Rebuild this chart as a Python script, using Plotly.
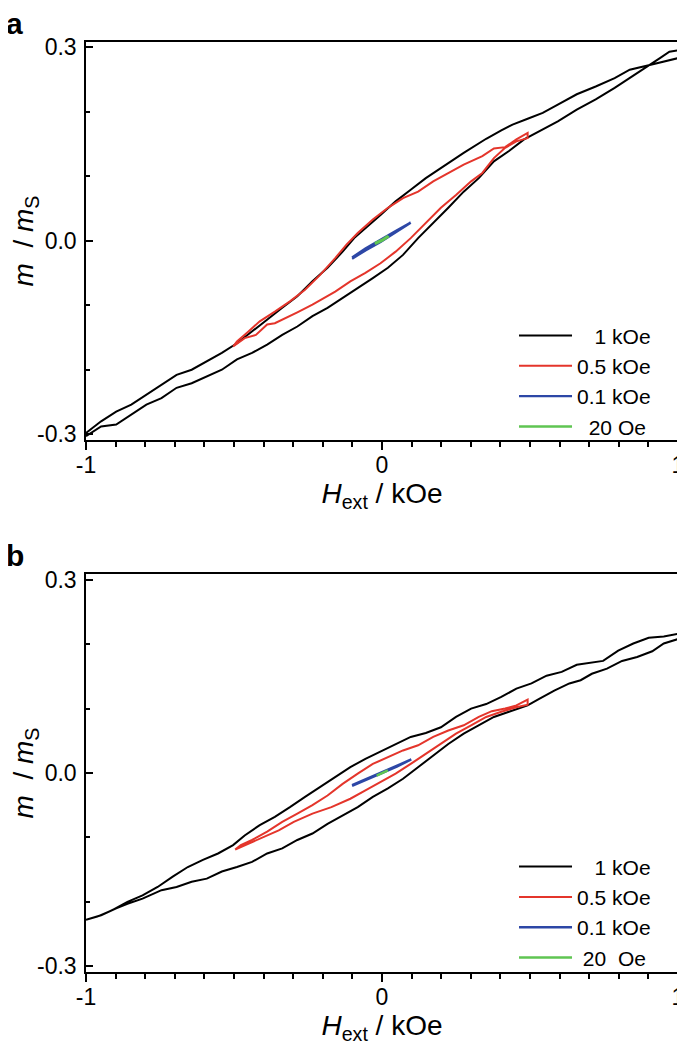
import plotly.graph_objects as go

# ---------------- data: panel a ----------------
# 1 kOe loop: ascending branch (-1 -> +1) then descending branch (+1 -> -1)
a1_up_h = [-1.0, -0.949, -0.898, -0.847, -0.796, -0.745, -0.694, -0.643, -0.592, -0.541, -0.490,
           -0.439, -0.388, -0.337, -0.286, -0.235, -0.184, -0.133, -0.082, -0.031, 0.020, 0.071,
           0.122, 0.173, 0.224, 0.276, 0.327, 0.378, 0.429, 0.480, 0.531, 0.594, 0.658, 0.722,
           0.786, 0.837, 0.901, 0.939, 0.971, 1.0]
a1_up_m = [-0.303, -0.288, -0.285, -0.270, -0.254, -0.244, -0.228, -0.221, -0.210, -0.200, -0.184,
           -0.174, -0.161, -0.146, -0.133, -0.117, -0.104, -0.089, -0.073, -0.058, -0.042, -0.022,
           0.004, 0.027, 0.051, 0.076, 0.097, 0.123, 0.139, 0.157, 0.170, 0.185, 0.203, 0.219,
           0.237, 0.252, 0.272, 0.283, 0.293, 0.295]
a1_dn_h = [1.0, 0.950, 0.901, 0.837, 0.786, 0.722, 0.658, 0.594, 0.543, 0.492, 0.441, 0.403,
           0.352, 0.276, 0.199, 0.148, 0.097, 0.046, -0.005, -0.056, -0.094, -0.133, -0.184,
           -0.235, -0.286, -0.337, -0.388, -0.439, -0.490, -0.541, -0.592, -0.643, -0.694,
           -0.745, -0.796, -0.847, -0.898, -0.949, -1.0]
a1_dn_m = [0.283, 0.278, 0.272, 0.265, 0.252, 0.239, 0.227, 0.211, 0.198, 0.189, 0.180, 0.171,
           0.158, 0.136, 0.113, 0.097, 0.079, 0.061, 0.040, 0.020, 0.004, -0.017, -0.042,
           -0.063, -0.086, -0.104, -0.122, -0.141, -0.159, -0.174, -0.187, -0.200, -0.208,
           -0.223, -0.239, -0.254, -0.265, -0.280, -0.298]

# 0.5 kOe loop
a05_up_h = [-0.503, -0.464, -0.426, -0.388, -0.362, -0.324, -0.286, -0.235, -0.196, -0.158,
            -0.107, -0.056, -0.005, 0.046, 0.097, 0.148, 0.199, 0.250, 0.301, 0.339, 0.378,
            0.416, 0.454, 0.492]
a05_up_m = [-0.164, -0.151, -0.146, -0.130, -0.128, -0.120, -0.111, -0.099, -0.089, -0.079,
            -0.063, -0.050, -0.035, -0.017, 0.004, 0.027, 0.051, 0.071, 0.092, 0.105, 0.128,
            0.144, 0.154, 0.159]
a05_dn_h = [0.492, 0.454, 0.416, 0.378, 0.339, 0.276, 0.224, 0.173, 0.122, 0.071, 0.020,
            -0.031, -0.082, -0.120, -0.158, -0.209, -0.260, -0.311, -0.362, -0.413, -0.452,
            -0.490, -0.503]
a05_dn_m = [0.167, 0.157, 0.145, 0.143, 0.131, 0.118, 0.105, 0.092, 0.076, 0.066, 0.051,
            0.033, 0.012, -0.006, -0.027, -0.053, -0.076, -0.094, -0.110, -0.125, -0.141,
            -0.156, -0.164]

# 0.1 kOe loop
a01_h = [-0.101, -0.056, -0.005, 0.046, 0.097, 0.097, 0.046, -0.005, -0.056, -0.101]
a01_m = [-0.028, -0.015, -0.002, 0.013, 0.027, 0.028, 0.015, 0.001, -0.012, -0.026]

# 20 Oe loop
a20_h = [-0.024, 0.0, 0.020, 0.020, 0.0, -0.024]
a20_m = [-0.005, 0.000, 0.006, 0.007, 0.001, -0.004]

# ---------------- data: panel b ----------------
b1_up_h = [-1.0, -0.949, -0.898, -0.860, -0.809, -0.745, -0.694, -0.643, -0.592, -0.541, -0.490,
           -0.439, -0.388, -0.337, -0.286, -0.235, -0.184, -0.133, -0.082, -0.031, 0.020, 0.071,
           0.122, 0.173, 0.224, 0.276, 0.327, 0.378, 0.429, 0.492, 0.531, 0.582, 0.633, 0.671,
           0.709, 0.760, 0.811, 0.862, 0.913, 0.952, 1.0]
b1_up_m = [-0.228, -0.221, -0.210, -0.203, -0.195, -0.182, -0.177, -0.169, -0.164, -0.153, -0.146,
           -0.138, -0.125, -0.117, -0.104, -0.094, -0.079, -0.066, -0.053, -0.037, -0.024, -0.009,
           0.009, 0.027, 0.045, 0.061, 0.074, 0.087, 0.095, 0.105, 0.115, 0.128, 0.139, 0.144,
           0.154, 0.162, 0.174, 0.180, 0.189, 0.201, 0.208]
b1_dn_h = [1.0, 0.952, 0.901, 0.849, 0.798, 0.747, 0.696, 0.658, 0.607, 0.556, 0.505, 0.454,
           0.403, 0.352, 0.301, 0.250, 0.199, 0.148, 0.097, 0.046, -0.005, -0.056, -0.107,
           -0.158, -0.209, -0.260, -0.311, -0.362, -0.413, -0.464, -0.503, -0.554, -0.605,
           -0.656, -0.707, -0.758, -0.809, -0.860, -0.911, -0.962, -1.0]
b1_dn_m = [0.216, 0.212, 0.210, 0.201, 0.190, 0.174, 0.170, 0.168, 0.157, 0.151, 0.139, 0.131,
           0.118, 0.107, 0.100, 0.087, 0.071, 0.062, 0.056, 0.045, 0.033, 0.022, 0.009,
           -0.006, -0.022, -0.037, -0.053, -0.068, -0.081, -0.097, -0.112, -0.125, -0.135,
           -0.146, -0.161, -0.177, -0.190, -0.200, -0.213, -0.223, -0.228]

b05_up_h = [-0.496, -0.452, -0.401, -0.349, -0.298, -0.235, -0.171, -0.107, -0.056, -0.005,
            0.046, 0.097, 0.148, 0.199, 0.250, 0.301, 0.352, 0.403, 0.454, 0.492]
b05_up_m = [-0.119, -0.110, -0.099, -0.089, -0.076, -0.063, -0.053, -0.040, -0.027, -0.014,
            -0.001, 0.014, 0.030, 0.045, 0.061, 0.074, 0.087, 0.095, 0.102, 0.106]
b05_dn_h = [0.492, 0.454, 0.416, 0.371, 0.327, 0.276, 0.224, 0.173, 0.122, 0.071, 0.020,
            -0.031, -0.082, -0.133, -0.184, -0.235, -0.286, -0.337, -0.388, -0.439, -0.477,
            -0.496]
b05_dn_m = [0.114, 0.105, 0.100, 0.096, 0.087, 0.074, 0.066, 0.056, 0.043, 0.035, 0.025,
            0.014, -0.001, -0.017, -0.035, -0.050, -0.063, -0.076, -0.091, -0.104, -0.112,
            -0.119]

b01_h = [-0.101, -0.050, 0.0, 0.050, 0.099, 0.099, 0.050, 0.0, -0.050, -0.101]
b01_m = [-0.020, -0.010, 0.000, 0.010, 0.021, 0.021, 0.011, 0.001, -0.009, -0.019]

b20_h = [-0.018, 0.0, 0.020, 0.020, 0.0, -0.018]
b20_m = [-0.004, 0.000, 0.004, 0.004, 0.000, -0.004]

names_a = ["\u2007\u20081 kOe", "0.5 kOe", "0.1 kOe", "\u200720 Oe"]
names_b = ["\u2007\u20081 kOe", "0.5 kOe", "0.1 kOe", "\u200820\u00a0 Oe"]
colors = ["#000000", "#e4352b", "#2d47a6", "#5fc552"]

x_ticks = [-1, 0, 1]
x_ticktext = ["-1", "0", "1"]
y_ticks = [-0.3, 0.0, 0.3]
y_ticktext = ["-0.3", "0.0", "0.3"]

FONT = "Liberation Sans, Arial, Helvetica, sans-serif"

fig = go.Figure()

series_a = [(a1_up_h + a1_dn_h, a1_up_m + a1_dn_m),
            (a05_up_h + a05_dn_h, a05_up_m + a05_dn_m),
            (a01_h, a01_m),
            (a20_h, a20_m)]
series_b = [(b1_up_h + b1_dn_h, b1_up_m + b1_dn_m),
            (b05_up_h + b05_dn_h, b05_up_m + b05_dn_m),
            (b01_h, b01_m),
            (b20_h, b20_m)]
widths = [2, 2, 2.4, 2.6]

for i, (hx, my) in enumerate(series_a):
    fig.add_trace(go.Scatter(x=hx, y=my, mode="lines", name=names_a[i],
                             line=dict(color=colors[i], width=widths[i]),
                             xaxis="x", yaxis="y", legend="legend"))
for i, (hx, my) in enumerate(series_b):
    fig.add_trace(go.Scatter(x=hx, y=my, mode="lines", name=names_b[i],
                             line=dict(color=colors[i], width=widths[i]),
                             xaxis="x2", yaxis="y2", legend="legend2"))

xcommon = dict(range=[-1, 1], tickmode="array", tickvals=x_ticks, ticktext=x_ticktext,
               ticks="outside", ticklen=8, tickwidth=1.5, tickcolor="black",
               minor=dict(dtick=0.1, tick0=0, ticks="outside", ticklen=5, tickwidth=1.5,
                          tickcolor="black", showgrid=False),
               showline=True, linecolor="black", linewidth=1.5, mirror=True,
               showgrid=False, zeroline=False, automargin=False, ticklabelstandoff=-4,
               tickfont=dict(family=FONT, size=23, color="black"),
               title=dict(text="<i>H</i><sub>ext</sub> / kOe",
                          font=dict(family=FONT, size=28, color="black"), standoff=0))
ycommon = dict(tickmode="array", tickvals=y_ticks, ticktext=y_ticktext,
               ticks="inside", ticklen=7, tickwidth=1.5, tickcolor="black",
               minor=dict(dtick=0.1, tick0=0, ticks="inside", ticklen=4, tickwidth=1.5,
                          tickcolor="black", showgrid=False),
               showline=True, linecolor="black", linewidth=1.5, mirror=True,
               showgrid=False, zeroline=False, automargin=False, ticklabelstandoff=3,
               tickfont=dict(family=FONT, size=23, color="black"),
               title=dict(text="<i>m</i>\u00a0 / <i>m</i><sub>S</sub>",
                          font=dict(family=FONT, size=28, color="black"), standoff=0))

legend_common = dict(xanchor="left", yanchor="top", bgcolor="rgba(0,0,0,0)",
                     font=dict(family=FONT, size=21, color="black"),
                     tracegroupgap=0, itemwidth=53)

# the page body adds an 8 px offset, so the figure is 8 px smaller than the window
fig.update_layout(
    width=677, height=1039,
    margin=dict(l=78, r=7, t=34, b=75, autoexpand=False),
    paper_bgcolor="white", plot_bgcolor="white",
    showlegend=True,
    xaxis=dict(domain=[0, 1], anchor="y", **xcommon),
    yaxis=dict(domain=[0.572, 1], anchor="x", range=[-0.309, 0.308], **ycommon),
    xaxis2=dict(domain=[0, 1], anchor="y2", **xcommon),
    yaxis2=dict(domain=[0, 0.428], anchor="x2", range=[-0.309, 0.309], **ycommon),
    legend=dict(x=0.723, y=0.706, **legend_common),
    legend2=dict(x=0.723, y=0.135, **legend_common),
    annotations=[
        dict(text="a", xref="paper", yref="paper", x=-0.138, y=1.0201,
             xanchor="left", yanchor="middle", showarrow=False,
             font=dict(family=FONT, size=30, color="black", weight="bold")),
        dict(text="b", xref="paper", yref="paper", x=-0.138, y=0.448,
             xanchor="left", yanchor="middle", showarrow=False,
             font=dict(family=FONT, size=30, color="black", weight="bold")),
    ],
)

fig.write_html("out.html")
